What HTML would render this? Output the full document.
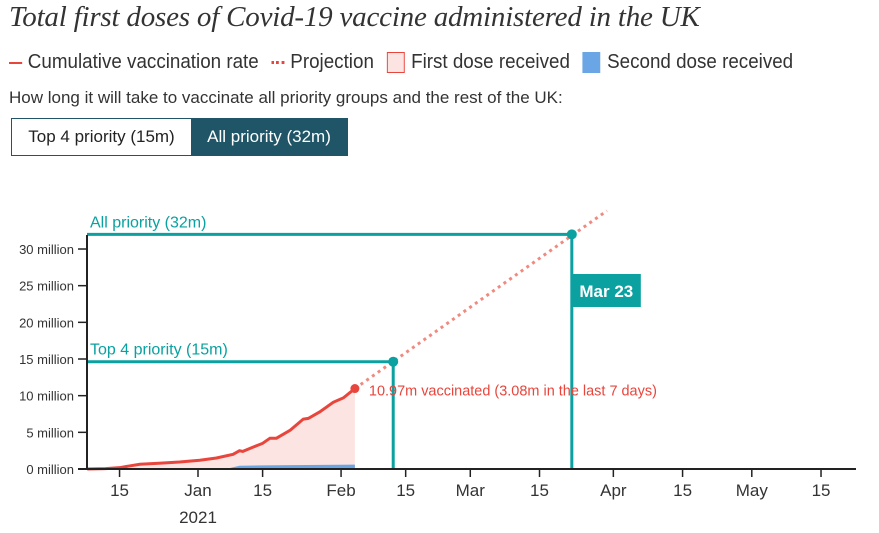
<!DOCTYPE html>
<html><head><meta charset="utf-8"><style>
body{margin:0;width:879px;height:533px;background:#fff;overflow:hidden;font-family:"Liberation Sans Narrow","Liberation Sans",sans-serif;color:#333}
.title{position:absolute;left:9px;top:1px;font:italic 29px "Liberation Serif",serif;color:#333;letter-spacing:-0.2px;white-space:nowrap}
.legend{position:absolute;left:9px;top:51px;font-size:20px;color:#333;white-space:nowrap;transform:scaleX(0.94);transform-origin:0 0}
.legend span{display:inline-block;vertical-align:middle}
.sub{position:absolute;left:9px;top:88px;font-size:17px;color:#333}
.btns{position:absolute;left:11px;top:118px;width:335px;height:36px;border:1px solid #1f5566;display:flex;font-size:17px}
.btns div{display:flex;align-items:center;justify-content:center}
</style></head><body>
<div class="title">Total first doses of Covid-19 vaccine administered in the UK</div>
<div class="legend">
<span style="width:14px;height:2px;background:#e8453c;margin-right:6px"></span><span>Cumulative vaccination rate</span>
<span style="width:14px;border-top:3px dotted #e8453c;margin:0 6px 0 8px"></span><span>Projection</span>
<span style="width:17px;height:19px;background:#fce4e2;border:1px solid #e8453c;margin:0 7px 0 8px"></span><span>First dose received</span>
<span style="width:19px;height:21px;background:#6aa6e6;margin:0 7px 0 8px"></span><span>Second dose received</span>
</div>
<div class="sub">How long it will take to vaccinate all priority groups and the rest of the UK:</div>
<div class="btns">
<div style="width:179px;background:#fff;color:#222">Top 4 priority (15m)</div>
<div style="flex:1;background:#1f5566;color:#fff">All priority (32m)</div>
</div>
<svg id="chart" width="879" height="533" style="position:absolute;left:0;top:0"></svg>
<script>
const firstDays=[-24,-20,-17,-15,-12.6,-8,-4,0.4,4,7.6,9,9.7,12,14,15.6,17,20,22.8,23.9,26.4,29.3,31.5,34];
const firstVals=[0,0.05,0.18,0.4,0.65,0.8,0.95,1.2,1.5,2.0,2.5,2.4,3.0,3.5,4.2,4.2,5.3,6.8,6.9,7.8,9.1,9.7,10.97];
const secondDays=[6,9,14,20,34];
const secondVals=[0,0.45,0.5,0.52,0.6];
const yTicks=[0,5,10,15,20,25,30];
const xTickDays=[-17,0,14,31,45,59,74,90,105,120,135];
const xTickLabels=["15","Jan","15","Feb","15","Mar","15","Apr","15","May","15"];
const targets=[{label:"Top 4 priority (15m)",value:14.63,day:42.3},{label:"All priority (32m)",value:32,day:81}];
const projEndDay=88.6, lastDay=34, lastVal=10.97, rate=0.444;
const X=d=>198+d*4.615, Y=v=>469-v*7.333;
const svg=document.getElementById('chart'),NS='http://www.w3.org/2000/svg';
function mk(t,a,txt){const e=document.createElementNS(NS,t);for(const k in a)e.setAttribute(k,a[k]);if(txt!=null)e.textContent=txt;svg.appendChild(e);return e;}
const T='#0aa1a0',R='#e8453c',F='"Liberation Sans Narrow","Liberation Sans",sans-serif';
let ap=firstDays.map((d,i)=>`${X(d)},${Y(firstVals[i])}`).join(' ');
let a=mk('polygon',{points:`${X(firstDays[0])},${Y(0)} ${ap} ${X(lastDay)},${Y(0)}`,fill:'#fce4e2'});


let bp=secondDays.map((d,i)=>`${X(d)},${Y(secondVals[i])}`).join(' ');
let b=mk('polygon',{points:`${X(secondDays[0])},${Y(0)} ${bp} ${X(secondDays[secondDays.length-1])},${Y(0)}`,fill:'#6aa6e6'});


targets.forEach((t,i)=>{
 let h=mk('polyline',{points:`87,${Y(t.value)} ${X(t.day)},${Y(t.value)} ${X(t.day)},469`,fill:'none',stroke:T,'stroke-width':3});
 
 
 let l=mk('text',{x:90,y:Y(t.value)-7,fill:T,'font-size':16,'font-family':F},t.label);
 
 
});
let p=mk('line',{x1:X(lastDay),y1:Y(lastVal),x2:X(projEndDay),y2:Y(lastVal+rate*(projEndDay-lastDay)),stroke:'#f08a80','stroke-width':3,'stroke-dasharray':'3 4'});


let c=mk('polyline',{points:ap,fill:'none',stroke:R,'stroke-width':3});


let ld=mk('circle',{cx:X(lastDay),cy:Y(lastVal),r:4.5,fill:R});


targets.forEach((t,i)=>{let d=mk('circle',{cx:X(t.day),cy:Y(t.value),r:5,fill:T});
 
 });
let an=mk('text',{x:X(lastDay)+14,y:Y(lastVal)+7,fill:R,'font-size':14.5,'font-family':F,textLength:288,lengthAdjust:'spacingAndGlyphs'},`${lastVal}m vaccinated (3.08m in the last 7 days)`);


let bx=mk('rect',{x:X(81),y:274,width:69,height:33,fill:T});


let bt=mk('text',{x:X(81)+34.5,y:297,fill:'#fff','font-size':17,'font-weight':'bold','text-anchor':'middle','font-family':F},'Mar 23');


let ya=mk('line',{x1:87,y1:235,x2:87,y2:469,stroke:'#222','stroke-width':2});


let xa=mk('line',{x1:78,y1:469,x2:856,y2:469,stroke:'#222','stroke-width':2});


yTicks.forEach(v=>{
 let tk=mk('line',{x1:78,y1:Y(v),x2:87,y2:Y(v),stroke:'#222','stroke-width':1.5});
 
 
 let tl=mk('text',{x:74,y:Y(v)+5,'text-anchor':'end','font-size':13,fill:'#333','font-family':'"Liberation Sans",sans-serif'},v+' million');
 
 
});
xTickDays.forEach((d,i)=>{
 let tk=mk('line',{x1:X(d),y1:469,x2:X(d),y2:477,stroke:'#222','stroke-width':1.5});
 
 
 let tl=mk('text',{x:X(d),y:496,'text-anchor':'middle','font-size':17,fill:'#333','font-family':F},xTickLabels[i]);
 
 
});
let yr=mk('text',{x:X(0),y:523,'text-anchor':'middle','font-size':17,fill:'#333','font-family':F},'2021');


</script>
</body></html>
